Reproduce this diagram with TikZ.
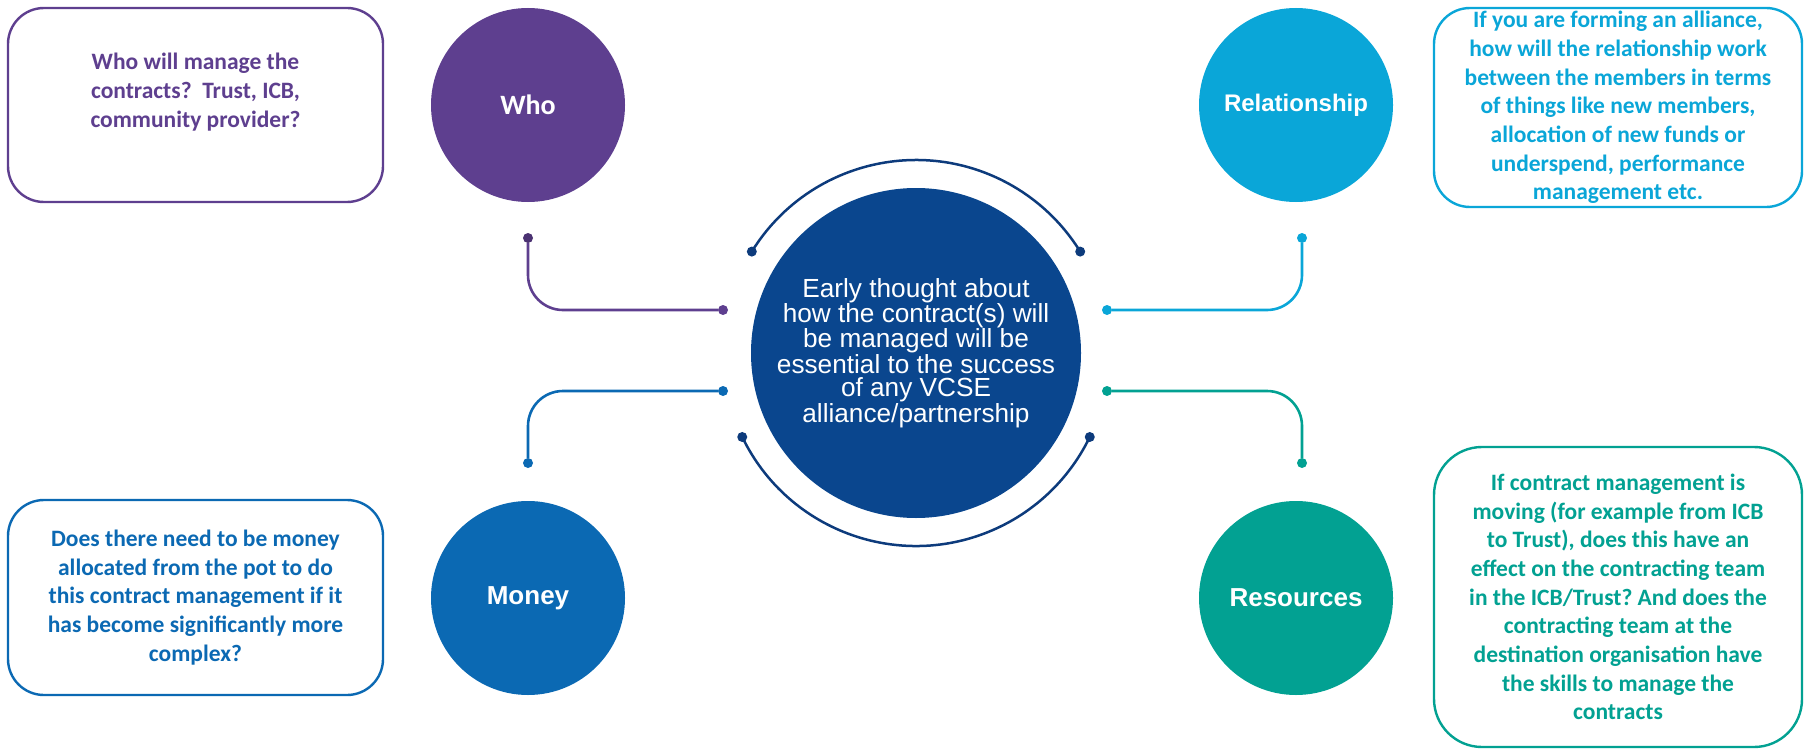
\documentclass[tikz,border=0pt]{standalone}
\usepackage{fontspec}
\setmainfont{Liberation Sans}
\newfontfamily\calfont{Carlito}
\usetikzlibrary{calc}
\frenchspacing
\definecolor{whoc}{HTML}{5E3F8F}
\definecolor{moneyc}{HTML}{0B69B3}
\definecolor{relc}{HTML}{0AA6D8}
\definecolor{resc}{HTML}{02A192}
\definecolor{corec}{HTML}{0A468E}
\definecolor{ringc}{HTML}{0D3B7C}
\tikzset{card/.style={draw, rectangle, rounded corners=36pt, line width=2.4pt, fill=white}}

\begin{document}
\begin{tikzpicture}[x=1pt, y=1pt]
\tikzstyle{topic} = [circle, minimum size=194pt, inner sep=0pt, text=white, font=\bfseries\fontsize{26}{30}\selectfont]
\tikzstyle{core} = [circle, minimum size=330pt, inner sep=0pt, fill=corec, text=white, align=center, font=\fontsize{26.2}{23.6}\selectfont]
\tikzstyle{knob} = [circle, minimum size=10pt, inner sep=0pt]
\tikzstyle{link} = [line width=2.6pt, rounded corners=35pt]
\tikzstyle{ring} = [line width=2.5pt, draw=ringc]
\tikzstyle{note} = [card, align=center, inner sep=0pt, font=\calfont\bfseries\fontsize{23.5}{28.7}\selectfont]

\useasboundingbox (0,0) rectangle (1806,-749);

\node (core) [core] at (916,-353) {Early thought about\\how the contract(s) will\\be managed will be\\essential to the success\\of any VCSE\\alliance/partnership};

\node (who) [topic, fill=whoc, font=\calfont\bfseries\fontsize{28}{32}\selectfont] at (528,-105) {Who};
\node (money) [topic, fill=moneyc, below of=who, node distance=493pt] {Money};
\node (rel) [topic, fill=relc, right of=who, node distance=768pt, font=\bfseries\fontsize{24}{28}\selectfont] {Relationship};
\node (res) [topic, fill=resc, below of=rel, node distance=493pt] {Resources};

\node (whobox) [note, draw=whoc, minimum width=375pt, minimum height=194pt] at (195.5,-105) {};
\node (whotxt) [text=whoc, align=center, font=\calfont\bfseries\fontsize{23.5}{28.7}\selectfont] at (195.5,-92) {Who will manage the\\contracts?~ Trust, ICB,\\community provider?};
\node (moneybox) [note, draw=moneyc, text=moneyc, minimum width=375pt, minimum height=195pt] at (195.5,-597.5) {Does there need to be money\\allocated from the pot to do\\this contract management if it\\has become significantly more\\complex?};
\node (relbox) [note, draw=relc, text=relc, minimum width=368pt, minimum height=199pt] at (1618,-107.5) {If you are forming an alliance,\\how will the relationship work\\between the members in terms\\of things like new members,\\allocation of new funds or\\underspend, performance\\management etc.};
\node (resbox) [note, draw=resc, text=resc, rounded corners=48pt, minimum width=368pt, minimum height=300pt] at (1618,-597) {If contract management is\\moving (for example from ICB\\to Trust), does this have an\\effect on the contracting team\\in the ICB/Trust? And does the\\contracting team at the\\destination organisation have\\the skills to manage the\\contracts};

% connector ends
\node (whoA) [knob, fill=whoc] at (723,-310) {};
\node (whoB) [knob, fill=whoc!80!black] at (528,-238) {};
\node (moneyA) [knob, fill=moneyc] at (723,-391) {};
\node (moneyB) [knob, fill=moneyc] at (528,-463) {};
\node (relA) [knob, fill=relc] at (1107,-310) {};
\node (relB) [knob, fill=relc] at (1302,-238) {};
\node (resA) [knob, fill=resc] at (1107,-391) {};
\node (resB) [knob, fill=resc] at (1302,-463) {};

\draw [link, draw=whoc] (whoA) -| (whoB);
\draw [link, draw=moneyc] (moneyA) -| (moneyB);
\draw [link, draw=relc] (relA) -| (relB);
\draw [link, draw=resc] (resA) -| (resB);

% ring round the core
\node (ringTL) [knob, fill=ringc] at ($(core.center)+(148.3:193)$) {};
\node (ringTR) [knob, fill=ringc] at ($(core.center)+(31.7:193)$) {};
\node (ringBL) [knob, fill=ringc] at ($(core.center)+(205.8:193)$) {};
\node (ringBR) [knob, fill=ringc] at ($(core.center)+(334.2:193)$) {};
\draw [ring] (ringTL.center) arc[start angle=148.3, end angle=31.7, radius=193pt];
\draw [ring] (ringBL.center) arc[start angle=205.8, end angle=334.2, radius=193pt];

\end{tikzpicture}
\end{document}
